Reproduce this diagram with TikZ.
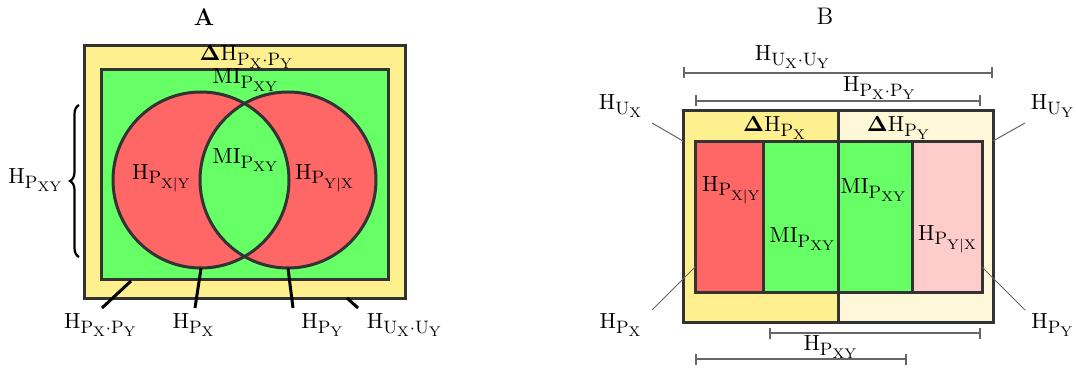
\documentclass[tikz,border=0pt]{standalone}
\usepackage{amsmath,amssymb}
\usepackage{tikz}
\usetikzlibrary{arrows.meta,decorations.pathreplacing}
\DeclareMathSizes{11}{11}{9}{7}
\definecolor{softyellow}{HTML}{FFF08F}
\definecolor{softcream}{HTML}{FFF8D8}
\definecolor{softgreen}{HTML}{66FF66}
\definecolor{softred}{HTML}{FF6666}
\definecolor{softpink}{HTML}{FFCCCC}
\definecolor{framegray}{HTML}{333333}
\definecolor{dimgray}{HTML}{666666}
\newcommand{\Hsub}[1]{\mathrm{H}_{#1}}
\newcommand{\Pv}[1]{\mathrm{P}_{\mathrm{#1}}}
\newcommand{\Uv}[1]{\mathrm{U}_{\mathrm{#1}}}
\newcommand{\MIxy}{\mathrm{MI}_{\Pv{XY}}}
\tikzset{
  frame/.style={draw=framegray,line width=1.5pt},
  leader/.style={line width=1.5pt,black},
  thinleader/.style={line width=0.5pt,dimgray},
  dimline/.style={line width=0.8pt,dimgray,{Bar[width=5.5pt]}-{Bar[width=5.5pt]}},
  lbl/.style={font=\fontsize{11}{13}\selectfont,inner sep=1pt},
  venn/.style={circle,minimum size=88pt,inner sep=0pt}
}
\begin{document}
\begin{tikzpicture}[x=0.5pt,y=-0.5pt]
\useasboundingbox (0,0) rectangle (1076,369);
\node[font=\fontsize{12}{14}\selectfont\bfseries] (titleA) at (204,17) {A};
\node[font=\fontsize{12}{14}\selectfont] (titleB) at (825,16) {B};
\draw[frame,fill=softyellow] (84,46) rectangle (405,298);
\draw[frame,fill=softgreen] (101,70) rectangle (388,279);
\node[venn,fill=softred] (px) at (201,180) {};
\node[venn,fill=softred] (py) at (288,180) {};
\begin{scope}
\clip (201,180) circle[radius=44pt];
\fill[softgreen] (288,180) circle[radius=44pt];
\end{scope}
\draw[frame] (201,180) circle[radius=44pt];
\draw[frame] (288,180) circle[radius=44pt];
\node[lbl] (dhA) at (247,57) {$\boldsymbol{\Delta}\Hsub{\Pv{X}\cdot\Pv{Y}}$};
\node[lbl] (miA) at (246,80) {$\MIxy$};
\node[lbl] (micA) at (246,160) {$\MIxy$};
\node[lbl] (hxyA) at (162,178) {$\Hsub{\Pv{X|Y}}$};
\node[lbl] (hyxA) at (325,178) {$\Hsub{\Pv{Y|X}}$};
\node[lbl] (hjA) at (36,180) {$\Hsub{\Pv{XY}}$};
\draw[line width=1.1pt,decorate,decoration={brace,amplitude=4.5pt}] (79,257) -- (79,105);
\node[lbl] (hpp) at (101,325) {$\Hsub{\Pv{X}\cdot\Pv{Y}}$};
\node[lbl] (hpxA) at (194,325) {$\Hsub{\Pv{X}}$};
\node[lbl] (hpyA) at (323,325) {$\Hsub{\Pv{Y}}$};
\node[lbl] (huu) at (405,325) {$\Hsub{\Uv{X}\cdot\Uv{Y}}$};
\coordinate (a1) at (131,281);
\coordinate (a1e) at (102,308);
\coordinate (a2e) at (195,308);
\coordinate (a3e) at (293,308);
\coordinate (a4) at (347,298);
\coordinate (a4e) at (358,308);
\draw[leader] (a1) -- (a1e);
\draw[leader] (px.south) -- (a2e);
\draw[leader] (py.south) -- (a3e);
\draw[leader] (a4) -- (a4e);
\fill[softyellow] (683,111) rectangle (838,322);
\fill[softcream] (838,111) rectangle (993,322);
\fill[softred] (695,142) rectangle (763,292);
\fill[softgreen] (763,142) rectangle (912,292);
\fill[softpink] (912,142) rectangle (982,292);
\draw[frame] (683,111) rectangle (993,322);
\draw[frame] (695,142) rectangle (982,292);
\draw[frame] (763,142) -- (763,292);
\draw[frame] (838,111) -- (838,322);
\draw[frame] (912,142) -- (912,292);
\node[lbl] (dhx) at (775,128) {$\boldsymbol{\Delta}\Hsub{\Pv{X}}$};
\node[lbl] (dhy) at (899,128) {$\boldsymbol{\Delta}\Hsub{\Pv{Y}}$};
\node[lbl] (hxyB) at (732,190) {$\Hsub{\Pv{X|Y}}$};
\node[lbl] (milB) at (803,239) {$\MIxy$};
\node[lbl] (miuB) at (874,190) {$\MIxy$};
\node[lbl] (hyxB) at (948,239) {$\Hsub{\Pv{Y|X}}$};
\coordinate (uul) at (683,73);
\coordinate (uur) at (993,73);
\coordinate (ppl) at (695,101);
\coordinate (ppr) at (981,101);
\coordinate (j1l) at (769,333);
\coordinate (j1r) at (981,333);
\coordinate (j2l) at (695,359);
\coordinate (j2r) at (907,359);
\draw[dimline] (uul) -- (uur);
\draw[dimline] (ppl) -- (ppr);
\draw[dimline] (j1l) -- (j1r);
\draw[dimline] (j2l) -- (j2r);
\node[lbl] (huuB) at (793,57) {$\Hsub{\Uv{X}\cdot\Uv{Y}}$};
\node[lbl] (hppB) at (880,88) {$\Hsub{\Pv{X}\cdot\Pv{Y}}$};
\node[lbl] (hjB) at (831,347) {$\Hsub{\Pv{XY}}$};
\node[lbl] (hux) at (621,106) {$\Hsub{\Uv{X}}$};
\node[lbl] (huy) at (1053,106) {$\Hsub{\Uv{Y}}$};
\node[lbl] (hpxB) at (621,325) {$\Hsub{\Pv{X}}$};
\node[lbl] (hpyB) at (1053,325) {$\Hsub{\Pv{Y}}$};
\coordinate (b1) at (652,123);
\coordinate (b1e) at (683,141);
\coordinate (b2) at (1025,123);
\coordinate (b2e) at (993,141);
\coordinate (b3) at (652,310);
\coordinate (b3e) at (695,267);
\coordinate (b4) at (1025,310);
\coordinate (b4e) at (982,267);
\draw[thinleader] (b1) -- (b1e);
\draw[thinleader] (b2) -- (b2e);
\draw[thinleader] (b3) -- (b3e);
\draw[thinleader] (b4) -- (b4e);
\end{tikzpicture}
\end{document}
